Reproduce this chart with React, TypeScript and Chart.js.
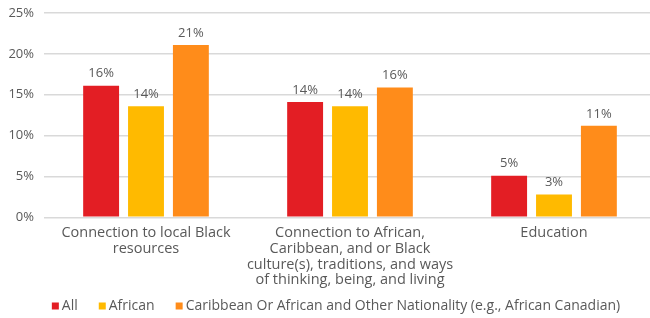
import React, { useEffect, useRef } from "react";
import { Chart, registerables } from "chart.js";

Chart.register(...registerables);

const categories: string[][] = [
  ["Connection to local Black", "resources"],
  ["Connection to African,", "Caribbean, and or Black", "culture(s), traditions, and ways", "of thinking, being, and living"],
  ["Education"],
];
const seriesNames = ["All", "African", "Caribbean Or African and Other Nationality (e.g., African Canadian)"];
const allValues = [16.1, 14.1, 5.1];
const africanValues = [13.6, 13.6, 2.8];
const caribbeanValues = [21.1, 15.9, 11.2];
const yTicks = [0, 5, 10, 15, 20, 25];

const colors = ["#E31E24", "#FFBA00", "#FF8C1A"];
const FONT = "'Open Sans', sans-serif";
const TEXT = "#595959";

const valueLabels = {
  id: "valueLabels",
  afterDatasetsDraw(chart: any) {
    const ctx = chart.ctx;
    ctx.save();
    ctx.font = `13px ${FONT}`;
    ctx.fillStyle = TEXT;
    ctx.textAlign = "center";
    ctx.textBaseline = "middle";
    chart.data.datasets.forEach((ds: any, i: number) => {
      const meta = chart.getDatasetMeta(i);
      meta.data.forEach((bar: any, j: number) => {
        ctx.fillText(Math.round(ds.data[j]) + "%", bar.x, bar.y - 12);
      });
    });
    ctx.restore();
  },
};

const customLegend = {
  id: "customLegend",
  afterDraw(chart: any) {
    const ctx = chart.ctx;
    ctx.save();
    ctx.font = `14px ${FONT}`;
    ctx.textBaseline = "middle";
    ctx.textAlign = "left";
    const y = chart.height - 12;
    const box = 7;
    const gapText = 3;
    const gapItem = 21;
    const ds = chart.data.datasets;
    let total = 0;
    ds.forEach((d: any, i: number) => {
      total += box + gapText + ctx.measureText(d.label).width + (i < ds.length - 1 ? gapItem : 0);
    });
    let x = 336 - total / 2;
    ds.forEach((d: any) => {
      ctx.fillStyle = d.backgroundColor;
      ctx.fillRect(x, y - box / 2, box, box);
      x += box + gapText;
      ctx.fillStyle = TEXT;
      ctx.fillText(d.label, x, y);
      x += ctx.measureText(d.label).width + gapItem;
    });
    ctx.restore();
  },
};

export default function App() {
  const ref = useRef<HTMLCanvasElement>(null);
  useEffect(() => {
    const chart = new Chart(ref.current!, {
      type: "bar",
      data: {
        labels: categories,
        datasets: [allValues, africanValues, caribbeanValues].map((d, i) => ({
          label: seriesNames[i],
          data: d,
          backgroundColor: colors[i],
          barPercentage: 0.8,
          categoryPercentage: 0.66,
        })),
      },
      options: {
        animation: false,
        responsive: false,
        maintainAspectRatio: false,
        layout: { padding: { top: 0, right: 4, left: 0, bottom: 30 } },
        plugins: {
          tooltip: { enabled: false },
          legend: { display: false },
        },
        scales: {
          x: {
            grid: { display: false },
            border: { display: false },
            ticks: {
              autoSkip: false,
              maxRotation: 0,
              padding: 0,
              color: TEXT,
              font: { family: FONT, size: 14.5, lineHeight: 1.08 },
            },
          },
          y: {
            min: 0,
            max: 25,
            afterFit: (s: any) => { s.width = 44; s.paddingTop = 13; },
            afterBuildTicks: (s: any) => { s.ticks = yTicks.map((v) => ({ value: v })); },
            grid: { color: "#D9D9D9", lineWidth: 1.5, drawTicks: false },
            border: { display: false },
            ticks: {
              padding: 10,
              color: TEXT,
              font: { family: FONT, size: 13 },
              callback: (v: any) => v + "%",
            },
          },
        },
      },
      plugins: [valueLabels, customLegend],
    });
    return () => chart.destroy();
  }, []);
  return (
    <div style={{ position: "fixed", left: 0, top: 0, width: 650, height: 318, overflow: "hidden", background: "#fff" }}>
      <canvas ref={ref} width={660} height={318} style={{ display: "block" }} />
    </div>
  );
}
